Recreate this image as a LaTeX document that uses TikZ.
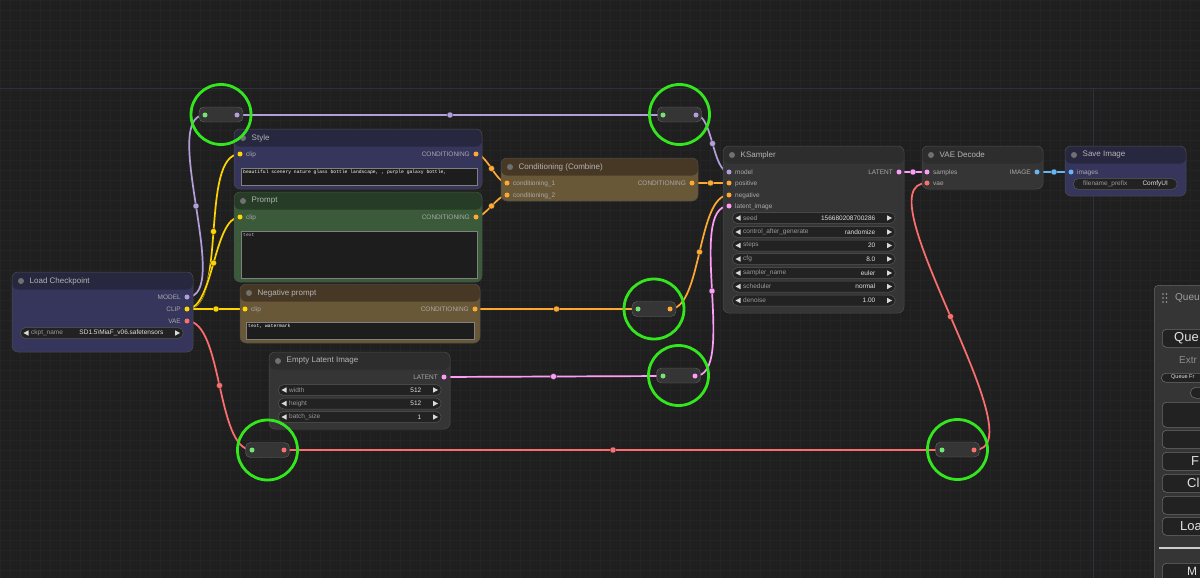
\documentclass[tikz,border=0pt]{standalone}
\usepackage{fontspec}
\setmainfont{Liberation Sans}
\newfontfamily\monof{Liberation Mono}
\usetikzlibrary{calc}
\definecolor{bgc}{HTML}{1F1F1F}
\definecolor{gridc}{HTML}{242424}
\definecolor{sepc}{HTML}{30303F}
\definecolor{cmodel}{HTML}{B39DDB}
\definecolor{cclip}{HTML}{FFD500}
\definecolor{cvae}{HTML}{FF6E6E}
\definecolor{ccond}{HTML}{FFA931}
\definecolor{clat}{HTML}{FF9CF9}
\definecolor{cimg}{HTML}{64B5F6}
\definecolor{cgreen}{HTML}{74E374}
\definecolor{hl}{HTML}{33E61E}
\definecolor{bluet}{HTML}{27273F}
\definecolor{blueb}{HTML}{36365C}
\definecolor{greent}{HTML}{263C26}
\definecolor{greenb}{HTML}{3A5A3A}
\definecolor{yelt}{HTML}{473826}
\definecolor{yelb}{HTML}{685838}
\definecolor{greyt}{HTML}{2D2D2D}
\definecolor{greyb}{HTML}{353535}
\definecolor{ttlc}{HTML}{B4B4B4}
\definecolor{tdotc}{HTML}{707070}
\definecolor{labc}{HTML}{AAAAAA}
\definecolor{wfill}{HTML}{222222}
\definecolor{wline}{HTML}{575757}
\definecolor{wlab}{HTML}{9A9A9A}
\definecolor{wval}{HTML}{E0E0E0}
\definecolor{warrc}{HTML}{DADADA}
\definecolor{tfill}{HTML}{1D1D1D}
\definecolor{qpan}{HTML}{353535}
\definecolor{qbtnc}{HTML}{222222}
\definecolor{qbord}{HTML}{6A6A6A}
\definecolor{qlab}{HTML}{A0A0A0}
\tikzset{
 nodebox/.style={rounded corners=6pt, anchor=north west, inner sep=0pt, outer sep=0pt, draw=black!70, line width=0.5pt},
 ttl/.style={anchor=west, text=ttlc, font=\fontsize{8}{9}\selectfont, inner sep=0pt},
 tdot/.style={circle, fill=#1, inner sep=0pt, minimum size=6pt},
 slab/.style={text=labc, font=\fontsize{6.5}{7}\selectfont, inner sep=0pt},
 sock/.style={circle, fill=#1, inner sep=0pt, minimum size=5pt},
 link/.style={draw=black!85, line width=0.5pt, double=#1, double distance=1.7pt},
 mdot/.style={circle, fill=#1, draw=black!80, line width=0.3pt, inner sep=0pt, minimum size=6pt},
 rr/.style={rounded corners=5pt, fill=greyb, draw=black!60, line width=0.4pt, minimum width=44pt, minimum height=15pt, inner sep=0pt},
 hlc/.style={circle, draw=hl, line width=2.8pt, minimum size=60pt, inner sep=0pt},
 wbox/.style={rounded corners=5.5pt, fill=wfill, draw=wline, line width=0.5pt, minimum height=11pt, inner sep=0pt, anchor=west},
 wl/.style={text=wlab, font=\fontsize{6.5}{7}\selectfont, inner sep=0pt, anchor=west},
 wv/.style={text=wval, font=\fontsize{6.5}{7}\selectfont, inner sep=0pt, anchor=east},
 tarea/.style={fill=tfill, draw=black!50, line width=0.3pt, inner sep=0pt, anchor=north west},
 ttext/.style={font=\monof\fontsize{4.7}{5}\selectfont, inner sep=0pt, anchor=west},
 qpanel/.style={anchor=north west, fill=qpan, draw=black!60, line width=0.5pt, rounded corners=4pt, inner sep=0pt},
 qbtn/.style={anchor=north west, fill=qbtnc, draw=qbord, line width=0.6pt, rounded corners=4pt, inner sep=0pt},
 qt/.style={anchor=west, inner sep=0pt, text=white!88!black},
}
\newcommand\cnode[8]{%
 \node[nodebox, fill=#7, minimum width=#4pt, minimum height=#5pt,
   path picture={\fill[#6] (path picture bounding box.north west) rectangle ([yshift=-17.5pt]path picture bounding box.north east);}] (#1) at (#2,#3) {};
 \node[tdot=tdotc] (#1-dot) at ([xshift=9pt,yshift=-9pt]#1.north west) {};
 \node[ttl] (#1-title) at ([xshift=17.5pt,yshift=-9pt]#1.north west) {#8};
}
\newcommand\cwid[6]{%
 \node[wbox, minimum width=#4pt] (#1) at (#2,#3) {};
 \fill[warrc] ([xshift=3.5pt]#1.west) -- ++(5,-2.7) -- ++(0,5.4) -- cycle;
 \fill[warrc] ([xshift=-3.5pt]#1.east) -- ++(-5,-2.7) -- ++(0,5.4) -- cycle;
 \node[wl] (#1-l) at ([xshift=11pt]#1.west) {#5};
 \node[wv] (#1-v) at ([xshift=-20pt]#1.east) {#6};
}
\begin{document}
\begin{tikzpicture}[x=1pt,y=-1pt]
\useasboundingbox (0,0) rectangle (1200,578);
\clip (0,0) rectangle (1200,578);
\fill[bgc] (0,0) rectangle (1200,578);
\foreach \gx in {0,10,...,1200} \draw[gridc, line width=0.4pt] (\gx,0) -- (\gx,578);
\foreach \gy in {0,10,...,570} \draw[gridc, line width=0.4pt] (0,\gy) -- (1200,\gy);
\draw[sepc, line width=0.8pt] (0,88) -- (1200,88);
\draw[sepc, line width=0.8pt] (1093,88) -- (1093,578);

% socket coordinates
\coordinate (lc-model) at (187,297);
\coordinate (lc-clip) at (187,309);
\coordinate (lc-vae) at (187,321);
\coordinate (st-clip) at (240,154);
\coordinate (st-cond) at (476,154);
\coordinate (pr-clip) at (240,217);
\coordinate (pr-cond) at (476,217);
\coordinate (ng-clip) at (245,309);
\coordinate (ng-cond) at (475,309);
\coordinate (el-lat) at (444,377);
\coordinate (cb-c1) at (507,183);
\coordinate (cb-c2) at (507,195);
\coordinate (cb-out) at (692,183);
\coordinate (ks-model) at (729,172);
\coordinate (ks-pos) at (729,183);
\coordinate (ks-neg) at (729,195);
\coordinate (ks-lat) at (729,206);
\coordinate (ks-out) at (899,172);
\coordinate (vd-samp) at (927,172);
\coordinate (vd-vae) at (927,183);
\coordinate (vd-img) at (1037,172);
\coordinate (sv-img) at (1071,172);
\coordinate (r1-in) at (205,115);
\coordinate (r1-out) at (237,115);
\coordinate (r2-in) at (663,115);
\coordinate (r2-out) at (696,115);
\coordinate (r3-in) at (638,309);
\coordinate (r3-out) at (670,309);
\coordinate (r4-in) at (663,376);
\coordinate (r4-out) at (695,376);
\coordinate (r5-in) at (252,450);
\coordinate (r5-out) at (284,450);
\coordinate (r6-in) at (942,450);
\coordinate (r6-out) at (974,450);

% links
\draw[link=cmodel] (lc-model) .. controls +(46,0) and +(-46,0) .. (r1-in) coordinate[pos=0.5] (m1);
\draw[link=cmodel] (r1-out) -- (r2-in) coordinate[pos=0.5] (m2);
\draw[link=cmodel] (r2-out) .. controls +(16.5,0) and +(-16.5,0) .. (ks-model) coordinate[pos=0.5] (m3);
\draw[link=cclip] (lc-clip) .. controls +(41,0) and +(-41,0) .. (st-clip) coordinate[pos=0.5] (m4);
\draw[link=cclip] (lc-clip) .. controls +(26.5,0) and +(-26.5,0) .. (pr-clip) coordinate[pos=0.5] (m5);
\draw[link=cclip] (lc-clip) -- (ng-clip) coordinate[pos=0.5] (m6);
\draw[link=ccond] (st-cond) .. controls +(10.6,0) and +(-10.6,0) .. (cb-c1) coordinate[pos=0.5] (m7);
\draw[link=ccond] (pr-cond) .. controls +(9.5,0) and +(-9.5,0) .. (cb-c2) coordinate[pos=0.5] (m8);
\draw[link=ccond] (cb-out) -- (ks-pos) coordinate[pos=0.5] (m9);
\draw[link=ccond] (ng-cond) -- (r3-in) coordinate[pos=0.5] (m10);
\draw[link=ccond] (r3-out) .. controls +(32,0) and +(-32,0) .. (ks-neg) coordinate[pos=0.5] (m11);
\draw[link=clat] (el-lat) -- (r4-in) coordinate[pos=0.5] (m12);
\draw[link=clat] (r4-out) .. controls +(43,0) and +(-43,0) .. (ks-lat) coordinate[pos=0.5] (m13);
\draw[link=clat] (ks-out) -- (vd-samp) coordinate[pos=0.5] (m14);
\draw[link=cimg] (vd-img) -- (sv-img) coordinate[pos=0.5] (m15);
\draw[link=cvae] (lc-vae) .. controls +(36,0) and +(-36,0) .. (r5-in) coordinate[pos=0.5] (m16);
\draw[link=cvae] (r5-out) -- (r6-in) coordinate[pos=0.5] (m17);
\draw[link=cvae] (r6-out) .. controls +(68,0) and +(-68,0) .. (vd-vae) coordinate[pos=0.5] (m18);
\foreach \m/\c in {m1/cmodel,m2/cmodel,m3/cmodel,m4/cclip,m5/cclip,m6/cclip,m7/ccond,m8/ccond,m9/ccond,m10/ccond,m11/ccond,m12/clat,m13/clat,m14/clat,m15/cimg,m16/cvae,m17/cvae,m18/cvae}
  \node[mdot=\c] (\m-d) at (\m) {};

% nodes
\cnode{lc}{12}{272}{181}{80}{bluet}{blueb}{Load Checkpoint}
\cnode{st}{234}{129}{248}{60}{bluet}{blueb}{Style}
\cnode{pr}{234}{192}{248}{90}{greent}{greenb}{Prompt}
\cnode{ng}{240}{284}{240}{59}{yelt}{yelb}{Negative prompt}
\cnode{el}{269}{352}{181}{77}{greyt}{greyb}{Empty Latent Image}
\cnode{cb}{501}{158}{197}{43}{yelt}{yelb}{Conditioning (Combine)}
\cnode{ks}{723}{146}{181}{167}{greyt}{greyb}{KSampler}
\cnode{vd}{922}{146}{121}{43}{greyt}{greyb}{VAE Decode}
\cnode{sv}{1065}{146}{121}{50}{bluet}{blueb}{Save Image}

% slot labels
\node[slab, anchor=east] (lc-model-l) at (181,297) {MODEL};
\node[slab, anchor=east] (lc-clip-l) at (181,309) {CLIP};
\node[slab, anchor=east] (lc-vae-l) at (181,321) {VAE};
\node[slab, anchor=west] (st-clip-l) at (246,154.5) {clip};
\node[slab, anchor=east] (st-cond-l) at (470,154) {CONDITIONING};
\node[slab, anchor=west] (pr-clip-l) at (246,217.5) {clip};
\node[slab, anchor=east] (pr-cond-l) at (470,217) {CONDITIONING};
\node[slab, anchor=west] (ng-clip-l) at (251,309.5) {clip};
\node[slab, anchor=east] (ng-cond-l) at (469,309) {CONDITIONING};
\node[slab, anchor=east] (el-lat-l) at (438,377) {LATENT};
\node[slab, anchor=west] (cb-c1-l) at (513,183.5) {conditioning\_1};
\node[slab, anchor=west] (cb-c2-l) at (513,195.5) {conditioning\_2};
\node[slab, anchor=east] (cb-out-l) at (686,183) {CONDITIONING};
\node[slab, anchor=west] (ks-model-l) at (735,172.5) {model};
\node[slab, anchor=west] (ks-pos-l) at (735,183.5) {positive};
\node[slab, anchor=west] (ks-neg-l) at (735,195.5) {negative};
\node[slab, anchor=west] (ks-lat-l) at (735,206.5) {latent\_image};
\node[slab, anchor=east] (ks-out-l) at (893,172) {LATENT};
\node[slab, anchor=west] (vd-samp-l) at (933,172.5) {samples};
\node[slab, anchor=west] (vd-vae-l) at (933,183.5) {vae};
\node[slab, anchor=east] (vd-img-l) at (1031,172) {IMAGE};
\node[slab, anchor=west] (sv-img-l) at (1077,172.5) {images};

% widgets
\cwid{lc-w}{20}{333}{163}{ckpt\_name}{SD1.5\textbackslash MiaF\_v06.safetensors}
\cwid{el-w1}{278}{390}{163}{width}{512}
\cwid{el-w2}{278}{403.5}{163}{height}{512}
\cwid{el-w3}{278}{417}{163}{batch\_size}{1}
\cwid{ks-w1}{732}{218}{163}{seed}{156680208700286}
\cwid{ks-w2}{732}{232}{163}{control\_after\_generate}{randomize}
\cwid{ks-w3}{732}{245.5}{163}{steps}{20}
\cwid{ks-w4}{732}{259}{163}{cfg}{8.0}
\cwid{ks-w5}{732}{273}{163}{sampler\_name}{euler}
\cwid{ks-w6}{732}{286.5}{163}{scheduler}{normal}
\cwid{ks-w7}{732}{300.5}{163}{denoise}{1.00}
\node[wbox, minimum width=104pt] (sv-w) at (1073,184) {};
\node[wl] (sv-w-l) at (1083,184) {filename\_prefix};
\node[wv] (sv-w-v) at (1168,184) {ComfyUI};

% text areas
\node[tarea, minimum width=236pt, minimum height=17pt] (st-ta) at (241,168) {};
\node[ttext, text=white] (st-tx) at (243,172.5) {beautiful scenery nature glass bottle landscape, , purple galaxy bottle,};
\node[tarea, minimum width=236pt, minimum height=47pt] (pr-ta) at (241,231) {};
\node[ttext, text=white!75!black] (pr-tx) at (243,235) {text};
\node[tarea, minimum width=228pt, minimum height=17pt] (ng-ta) at (246,322) {};
\node[ttext, text=white] (ng-tx) at (248,326.5) {text, watermark};

% socket dots
\foreach \s/\c in {lc-model/cmodel,lc-clip/cclip,lc-vae/cvae,st-clip/cclip,st-cond/ccond,pr-clip/cclip,pr-cond/ccond,ng-clip/cclip,ng-cond/ccond,el-lat/clat,cb-c1/ccond,cb-c2/ccond,cb-out/ccond,ks-model/cmodel,ks-pos/ccond,ks-neg/ccond,ks-lat/clat,ks-out/clat,vd-samp/clat,vd-vae/cvae,vd-img/cimg,sv-img/cimg}
  \node[sock=\c] (\s-d) at (\s) {};

% reroutes
\node[rr] (r1) at (221,114.5) {};
\node[rr] (r2) at (679.5,114.5) {};
\node[rr] (r3) at (654,309) {};
\node[rr] (r4) at (678.5,375.5) {};
\node[rr] (r5) at (267.5,450) {};
\node[rr] (r6) at (957.5,449.5) {};
\foreach \s/\c in {r1-in/cgreen,r1-out/cmodel,r2-in/cgreen,r2-out/cmodel,r3-in/cgreen,r3-out/ccond,r4-in/cgreen,r4-out/clat,r5-in/cgreen,r5-out/cvae,r6-in/cgreen,r6-out/cvae}
  \node[sock=\c] (\s-d) at (\s) {};

% highlight circles
\node[hlc] (h1) at (r1) {};
\node[hlc] (h2) at (r2) {};
\node[hlc] (h3) at (r3) {};
\node[hlc] (h4) at (r4) {};
\node[hlc] (h5) at (r5) {};
\node[hlc] (h6) at (r6) {};

% queue panel
\node[qpanel, minimum width=70pt, minimum height=310pt] (qp) at (1154,285) {};
\foreach \dx in {1163,1166.5} \foreach \dy in {294,298,302} \fill[qlab] (\dx,\dy) circle[radius=0.9];
\node[qt, text=qlab, font=\fontsize{10}{11}\selectfont] (qp-t) at (1175,298) {Queu};
\node[qbtn, minimum width=60pt, minimum height=18pt] (qb1) at (1162,329) {};
\node[qt, font=\fontsize{13}{14}\selectfont] (qb1-t) at (1174,338.5) {Que};
\node[qt, text=white!55!black, font=\fontsize{10}{11}\selectfont] (qx-t) at (1179,360) {Extr};
\node[qbtn, minimum width=60pt, minimum height=9pt, rounded corners=4.5pt] (qp1) at (1161,373) {};
\node[qt, font=\fontsize{5.5}{6}\selectfont] (qp1-t) at (1171,377.5) {Queue Fr};
\node[qbtn, minimum width=30pt, minimum height=11pt, rounded corners=5.5pt] (qp2) at (1190,387) {};
\node[qbtn, minimum width=60pt, minimum height=25pt] (qb2) at (1162,402) {};
\node[qbtn, minimum width=60pt, minimum height=18pt] (qb3) at (1162,430) {};
\node[qbtn, minimum width=60pt, minimum height=18pt] (qb4) at (1162,452) {};
\node[qt, font=\fontsize{13}{14}\selectfont] (qb4-t) at (1191,461) {F};
\node[qbtn, minimum width=60pt, minimum height=18pt] (qb5) at (1162,474) {};
\node[qt, font=\fontsize{13}{14}\selectfont] (qb5-t) at (1187,483) {Cl};
\node[qbtn, minimum width=60pt, minimum height=18pt] (qb6) at (1162,496) {};
\node[qbtn, minimum width=60pt, minimum height=18pt] (qb7) at (1162,517) {};
\node[qt, font=\fontsize{13}{14}\selectfont] (qb7-t) at (1180,526) {Loa};
\draw[white!80!black, line width=1.2pt] (qp.west |- 0,548) ++(5,0) coordinate (ql-a) -- (1200,548) coordinate (ql-b);
\node[qbtn, minimum width=60pt, minimum height=25pt] (qb8) at (1162,563) {};
\node[qt, font=\fontsize{12}{13}\selectfont] (qb8-t) at (1187,571) {M};
\end{tikzpicture}
\end{document}
